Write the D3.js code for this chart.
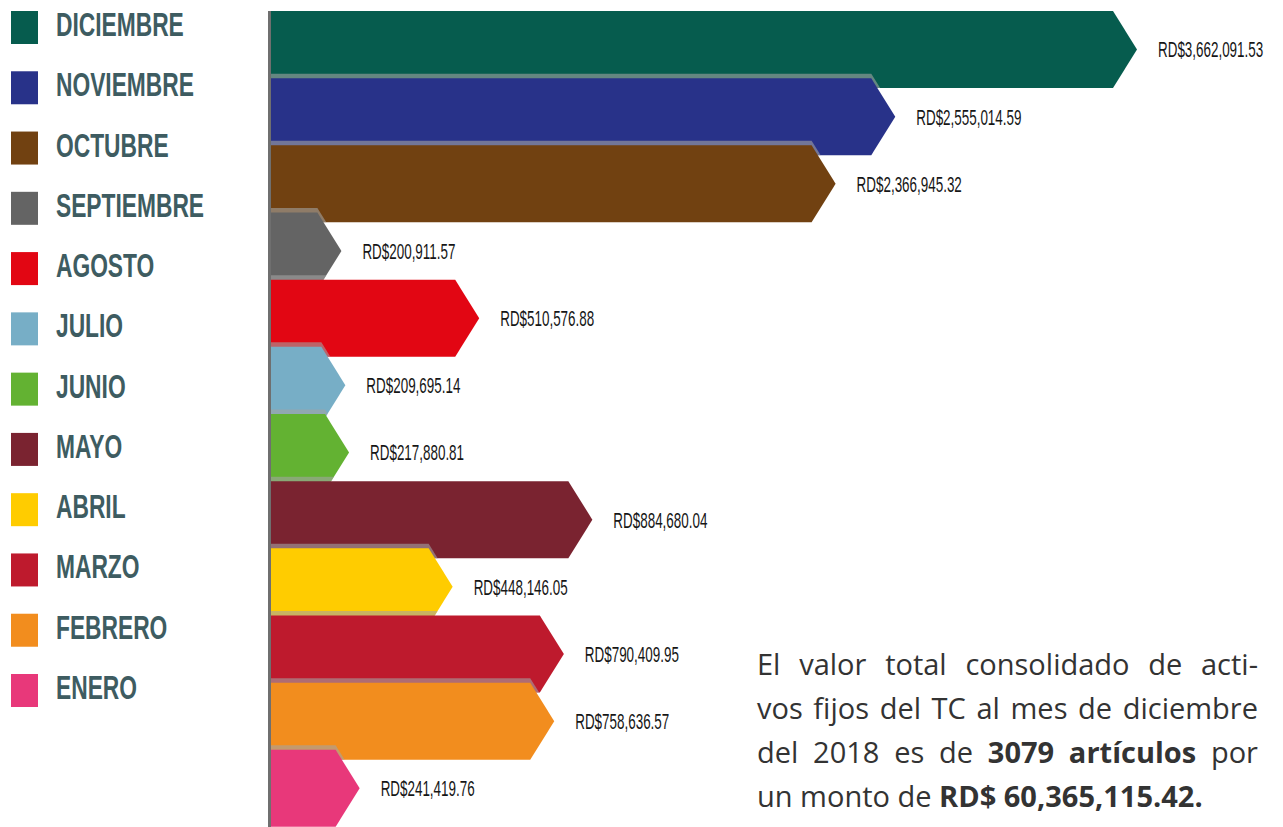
<!DOCTYPE html>
<html>
<head>
<meta charset="utf-8">
<script src="https://cdn.jsdelivr.net/npm/d3@7"></script>
<style>
  body { margin: 0; background: #fff; }
  svg { display: block; }
</style>
</head>
<body>
<div id="chart-container"></div>
<script>
// Months, top to bottom as in the infographic
const months = ["DICIEMBRE", "NOVIEMBRE", "OCTUBRE", "SEPTIEMBRE", "AGOSTO", "JULIO",
  "JUNIO", "MAYO", "ABRIL", "MARZO", "FEBRERO", "ENERO"];

// Amounts in RD$
const amounts = [3662091.53, 2555014.59, 2366945.32, 200911.57, 510576.88, 209695.14,
  217880.81, 884680.04, 448146.05, 790409.95, 758636.57, 241419.76];

const colors = ["#065c4e", "#283289", "#714111", "#646464", "#e20613", "#77aec6",
  "#63b232", "#7a2330", "#ffcc00", "#be1a2d", "#f28d1e", "#e8387a"];

// Note on the right, one entry per line, bold parts flagged
const noteLines = [
  [["El valor total consolidado de acti-", false]],
  [["vos fijos del TC al mes de diciembre", false]],
  [["del 2018 es de ", false], ["3079 artículos", true], [" por", false]],
  [["un monto de ", false], ["RD$ 60,365,115.42.", true]]
];

const width = 1283;
const height = 827;

const barLeft = 271;
const barH = 77;
const point = 24;      // depth of the arrow head
const shadowDy = 4.5;  // shadow offset upwards

// The original bars are not drawn to a single ratio: small amounts are stretched,
// so a piecewise linear scale is used to follow the picture
const x = d3.scaleLinear()
  .domain([0, 200000, 500000, 900000, 2400000, 2600000, d3.max(amounts)])
  .range([0, 70, 205, 326, 570, 640, 866].map(v => barLeft + v));

const y = d3.scaleBand()
  .domain(months)
  .range([11, 817])
  .paddingInner(0);

const legendY = d3.scalePoint()
  .domain(months)
  .range([11, 674]);

const svg = d3.select("#chart-container")
  .append("svg")
  .attr("width", width)
  .attr("height", height);

const data = months.map((m, i) => ({ month: m, value: amounts[i], color: colors[i], i }));

// arrow shaped bar
const arrow = (d, dy = 0) => {
  const x1 = x(d.value);
  const y0 = y(d.month) + dy;
  return d3.line()([
    [barLeft, y0], [x1 - point, y0], [x1, y0 + barH / 2],
    [x1 - point, y0 + barH], [barLeft, y0 + barH]
  ]) + "Z";
};

// clip paths so a shadow only shows on the bar above it
const defs = svg.append("defs");
defs.selectAll("clipPath")
  .data(data)
  .join("clipPath")
  .attr("id", d => `clip-${d.i}`)
  .append("path")
  .attr("d", d => arrow(d));

const bars = svg.append("g");
data.forEach(d => {
  if (d.i > 0) {
    bars.append("path")
      .attr("d", arrow(d, -shadowDy))
      .attr("clip-path", `url(#clip-${d.i - 1})`)
      .attr("fill", "#a4a4a4")
      .attr("opacity", 0.6);
  }
  bars.append("path")
    .attr("d", arrow(d))
    .attr("fill", d.color);
});

// left axis line
svg.append("line")
  .attr("x1", 269.5)
  .attr("x2", 269.5)
  .attr("y1", 11)
  .attr("y2", height)
  .attr("stroke", "#6f6f6f")
  .attr("stroke-width", 3);

// squeeze text horizontally to mimic a condensed face
const condense = (sel, factor) => {
  sel.each(function () {
    const w = this.getComputedTextLength();
    d3.select(this)
      .attr("textLength", w * factor)
      .attr("lengthAdjust", "spacingAndGlyphs");
  });
};

// value labels
svg.append("g")
  .selectAll("text")
  .data(data)
  .join("text")
  .attr("x", d => x(d.value) + 21)
  .attr("y", d => y(d.month) + barH / 2)
  .attr("dy", "0.36em")
  .style("font-family", "'Liberation Sans', Arial, sans-serif")
  .style("font-size", "22px")
  .style("fill", "#161616")
  .text(d => "RD$" + d3.format(",.2f")(d.value))
  .call(condense, 0.61);

// legend
const legend = svg.append("g")
  .selectAll("g")
  .data(data)
  .join("g")
  .attr("transform", d => `translate(11,${legendY(d.month)})`);

legend.append("rect")
  .attr("width", 27)
  .attr("height", 33)
  .attr("fill", d => d.color);

legend.append("text")
  .attr("x", 45)
  .attr("y", 25)
  .style("font-family", "'Liberation Sans', Arial, sans-serif")
  .style("font-weight", "bold")
  .style("font-size", "33px")
  .style("fill", "#3e5c61")
  .text(d => d.month)
  .call(condense, 0.69);

// justified note
const noteLeft = 757;
const noteWidth = 501;
const noteTop = 675;
const lineGap = 44;

noteLines.forEach((segs, li) => {
  const t = svg.append("text")
    .attr("x", noteLeft)
    .attr("y", noteTop + li * lineGap)
    .style("font-family", "'Open Sans', 'Noto Sans', sans-serif")
    .style("font-size", "29px")
    .style("fill", "#333")
    .attr("xml:space", "preserve");
  segs.forEach(([s, bold]) => {
    t.append("tspan")
      .style("font-weight", bold ? 700 : 400)
      .text(s);
  });
  if (li < noteLines.length - 1) {
    const w = t.node().getComputedTextLength();
    const spaces = segs.map(s => s[0]).join("").split(" ").length - 1;
    t.style("word-spacing", `${(noteWidth - w) / spaces}px`);
  }
});
</script>
</body>
</html>
